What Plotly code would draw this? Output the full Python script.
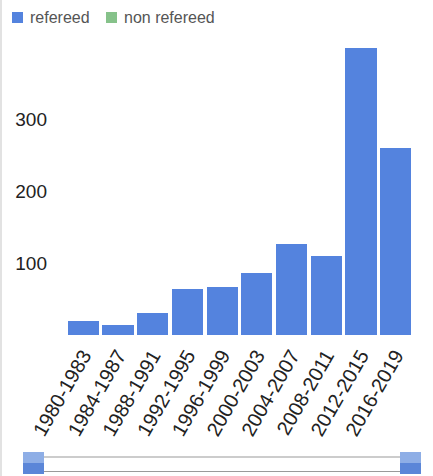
import plotly.graph_objects as go

categories = ["1980-1983", "1984-1987", "1988-1991", "1992-1995", "1996-1999",
              "2000-2003", "2004-2007", "2008-2011", "2012-2015", "2016-2019"]
refereed = [20, 14, 31, 64, 67, 87, 127, 110, 400, 261]
non_refereed = [0, 0, 0, 0, 0, 0, 0, 0, 0, 0]
y_ticks = [100, 200, 300]

series_names = ["refereed", "non refereed"]
series_colors = ["#5483DE", "#86C28A"]

W, H = 433, 476
L, R, T, B = 66, 20, 48, 141
pw, ph = W - L - R, H - T - B

def px(x):
    return (x - L) / pw

def py(y):
    return (H - B - y) / ph

fig = go.Figure()
for name, vals, col in zip(series_names, [refereed, non_refereed], series_colors):
    fig.add_trace(go.Bar(x=categories, y=vals, name=name, showlegend=False,
                         marker=dict(color=col, line=dict(width=0))))

shapes = []
annotations = []
# left frame line
shapes.append(dict(type="line", xref="paper", yref="paper", x0=px(1), x1=px(1),
                   y0=py(0), y1=py(476), line=dict(color="#d8d8d8", width=1.5)))
# manual legend
legend_x = [12, 106]
for lx, name, col in zip(legend_x, series_names, series_colors):
    shapes.append(dict(type="rect", xref="paper", yref="paper", x0=px(lx), x1=px(lx + 11),
                       y0=py(23), y1=py(12), fillcolor=col, line=dict(width=0)))
    annotations.append(dict(text=name, xref="paper", yref="paper", x=px(lx + 16), y=py(17.5),
                            xanchor="left", yanchor="middle", showarrow=False,
                            font=dict(size=16, color="#555")))
# slider track
for yy in (457, 471.5):
    shapes.append(dict(type="line", xref="paper", yref="paper", x0=px(44), x1=px(401),
                       y0=py(yy), y1=py(yy), line=dict(color="#9a9a9a", width=1.2)))
# slider handles
for x0 in (23, 400):
    shapes.append(dict(type="rect", xref="paper", yref="paper", x0=px(x0), x1=px(x0 + 21),
                       y0=py(474), y1=py(463), fillcolor="#5b86d8", line=dict(width=0)))
    shapes.append(dict(type="rect", xref="paper", yref="paper", x0=px(x0), x1=px(x0 + 21),
                       y0=py(463), y1=py(452), fillcolor="#8eaee6", line=dict(width=0)))

fig.update_layout(
    width=W, height=H,
    margin=dict(l=L, r=R, t=T, b=B),
    paper_bgcolor="white", plot_bgcolor="white",
    barmode="stack", bargap=0.1,
    font=dict(family="Liberation Sans, Arial, sans-serif", color="#222"),
    showlegend=False,
    xaxis=dict(tickangle=-60, tickfont=dict(size=20, color="#222"),
               showgrid=False, showline=False, ticks="", ticklabelstandoff=4),
    yaxis=dict(range=[0, 400], tickvals=y_ticks, showgrid=False, zeroline=False,
               showline=False, ticks="", tickfont=dict(size=19, color="#222"),
               ticklabelstandoff=18),
    shapes=shapes,
    annotations=annotations,
)

fig.write_html("out.html", config={"displayModeBar": False},
               post_script="document.body.style.margin='0';document.body.style.overflow='hidden';")
